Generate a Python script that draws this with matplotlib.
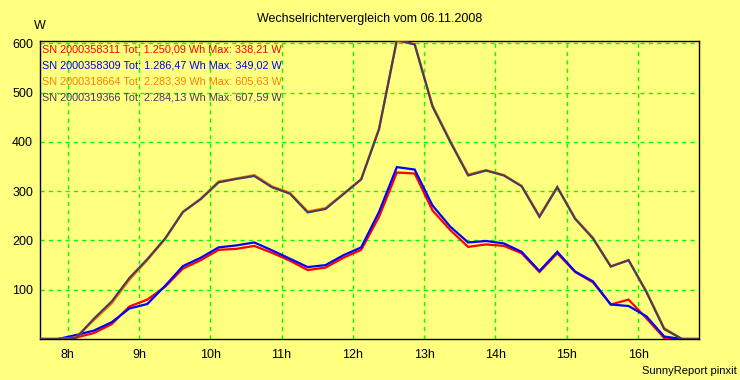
import matplotlib
matplotlib.use("Agg")
import matplotlib.pyplot as plt

plt.rcParams['font.family'] = ['Liberation Sans', 'DejaVu Sans']

times = ["07:37", "07:52", "08:07", "08:22", "08:37", "08:52", "09:07", "09:22",
         "09:37", "09:52", "10:07", "10:22", "10:37", "10:52", "11:07", "11:22",
         "11:37", "11:52", "12:07", "12:22", "12:37", "12:52", "13:07", "13:22",
         "13:37", "13:52", "14:07", "14:22", "14:37", "14:52", "15:07", "15:22",
         "15:37", "15:52", "16:07", "16:22", "16:37", "16:52"]

sn_358311 = [0, 0, 3, 12, 30, 66, 80, 106, 143, 160, 181, 183, 189, 175, 159, 140,
             145, 165, 181, 248, 338, 336, 261, 221, 187, 192, 189, 174, 136, 174,
             136, 115, 70, 80, 42, 2, 0, 0]
sn_358309 = [0, 0, 8, 17, 34, 62, 71, 108, 148, 165, 186, 190, 196, 180, 163, 146,
             150, 170, 186, 258, 349, 344, 271, 228, 196, 199, 194, 177, 138, 177,
             137, 117, 70, 67, 46, 5, 0, 0]
sn_318664 = [0, 0, 3, 38, 72, 120, 160, 203, 258, 285, 320, 326, 333, 310, 297, 259,
             266, 295, 325, 427, 605, 599, 474, 402, 334, 343, 333, 311, 250, 309,
             245, 206, 148, 160, 97, 22, 0, 0]
sn_319366 = [0, 0, 2, 41, 76, 124, 162, 204, 258, 284, 318, 325, 331, 308, 295, 257,
             264, 294, 324, 426, 607, 598, 472, 400, 332, 342, 332, 310, 248, 308,
             244, 204, 147, 160, 95, 20, 0, 0]

legend_texts = ["SN 2000358311 Tot: 1.250,09 Wh Max: 338,21 W",
                "SN 2000358309 Tot: 1.286,47 Wh Max: 349,02 W",
                "SN 2000318664 Tot: 2.283,39 Wh Max: 605,63 W",
                "SN 2000319366 Tot: 2.284,13 Wh Max: 607,59 W"]
hour_ticks = [8, 9, 10, 11, 12, 13, 14, 15, 16]
hour_labels = ["8h", "9h", "10h", "11h", "12h", "13h", "14h", "15h", "16h"]
y_ticks = [100, 200, 300, 400, 500, 600]

def to_hours(t):
    h, m = t.split(":")
    return int(h) + int(m) / 60.0

x = [to_hours(t) for t in times]

bg = "#FFFF80"
fig = plt.figure(figsize=(7.4, 3.8), dpi=100, facecolor=bg)
ax = fig.add_axes([40/740, 1-339/380, (699-40)/740, (339-41)/380])
ax.set_facecolor(bg)

colors = ["#FF0000", "#0000FF", "#FF8000", "#4B3A5C"]
series = [sn_358311, sn_358309, sn_318664, sn_319366]
for s, c in zip(series, colors):
    ax.plot(x, s, color=c, lw=1.6, solid_joinstyle='miter', zorder=3)

ax.set_xlim(7.612, 16.854)
ax.set_ylim(0, 605)
ax.set_xticks(hour_ticks)
ax.set_xticklabels(hour_labels)
ax.set_yticks(y_ticks)
ax.tick_params(length=0, labelsize=9, pad=5, colors='black')
ax.tick_params(axis='x', pad=7)
ax.grid(True, color="#00FF00", linestyle=(0, (3, 3)), lw=1.0, zorder=1)
for sp in ax.spines.values():
    sp.set_color('black')
    sp.set_linewidth(1.0)

for i, (t, c) in enumerate(zip(legend_texts, colors)):
    fig.text(42/740, 1-(50 + i*15.8)/380, t, color=c, fontsize=7.8, va='center', ha='left')

fig.text(370/740, 1-19/380, "Wechselrichtervergleich vom 06.11.2008", fontsize=9, ha='center', va='center')
fig.text(40/740, 1-26/380, "W", fontsize=9, ha='center', va='center')
fig.text(737/740, 1-371/380, "SunnyReport pinxit", fontsize=8, ha='right', va='center')

fig.savefig("out.png", dpi=100, facecolor=bg)
